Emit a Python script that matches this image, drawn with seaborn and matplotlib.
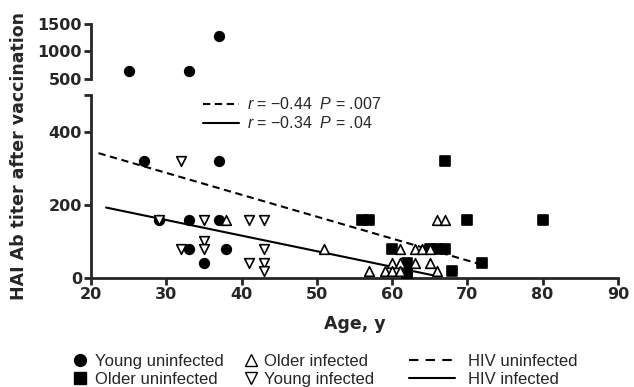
import numpy as np
import matplotlib
matplotlib.use('Agg')
import matplotlib.pyplot as plt
import pandas as pd
import seaborn as sns
from matplotlib.lines import Line2D

sns.set_style('ticks')
plt.rcParams['font.family'] = ['Liberation Sans', 'DejaVu Sans']
plt.rcParams['mathtext.fontset'] = 'custom'
plt.rcParams['mathtext.rm'] = 'Liberation Sans'
plt.rcParams['mathtext.it'] = 'Liberation Sans:italic'

# values
young_uninf_age = [25, 33, 37, 27, 37, 29, 33, 37, 33, 38, 35]
young_uninf_titer = [640, 640, 1280, 320, 320, 160, 160, 160, 80, 80, 40]

older_uninf_age = [67, 56, 57, 70, 80, 60, 65, 66, 67, 72, 62, 62, 62, 68]
older_uninf_titer = [320, 160, 160, 160, 160, 80, 80, 80, 80, 40, 40, 20, 10, 20]

older_inf_age = [38, 66, 67, 51, 61, 63, 64, 65, 60, 61, 63, 65, 57, 59, 60, 61, 66]
older_inf_titer = [160, 160, 160, 80, 80, 80, 80, 80, 40, 40, 40, 40, 20, 20, 20, 20, 20]

young_inf_age = [32, 29, 35, 41, 43, 35, 32, 35, 43, 41, 43, 43]
young_inf_titer = [320, 160, 160, 160, 160, 100, 80, 80, 80, 40, 40, 20]

fit_uninf_age = [21, 72]
fit_uninf_titer = [342, 36]
fit_inf_age = [22, 66]
fit_inf_titer = [193, 5]

x_ticks = [20, 30, 40, 50, 60, 70, 80, 90]

groups = [
    ('Young uninfected', young_uninf_age, young_uninf_titer, 'o', 'black', 48),
    ('Older uninfected', older_uninf_age, older_uninf_titer, 's', 'black', 44),
    ('Older infected', older_inf_age, older_inf_titer, '^', 'white', 48),
    ('Young infected', young_inf_age, young_inf_titer, 'v', 'white', 48),
]

tick_font = {'family': 'DejaVu Sans', 'weight': 'bold', 'size': 11.5}
label_font = {'family': 'DejaVu Sans', 'weight': 'bold', 'size': 12.5}
dash = (0, (3.5, 2.2))

fig = plt.figure(figsize=(6.34, 3.87), dpi=100)
ax_top = fig.add_axes([0.1435, 0.796, 0.831, 0.142])
ax = fig.add_axes([0.1435, 0.2817, 0.831, 0.4716])

for a in (ax, ax_top):
    for name, age, titer, mk, fc, s in groups:
        df = pd.DataFrame({'age': age, 'titer': titer})
        sns.scatterplot(data=df, x='age', y='titer', marker=mk, s=s,
                        color=fc, edgecolor='black', linewidth=1.2,
                        ax=a, zorder=3, legend=False)
    a.set_xlim(20, 90)
    a.set_xlabel('')
    a.set_ylabel('')
    for sp in a.spines.values():
        sp.set_linewidth(2)
    a.tick_params(width=2, length=5, pad=1.5)

ax.plot(fit_uninf_age, fit_uninf_titer, color='black', lw=1.5, ls=dash, zorder=2)
ax.plot(fit_inf_age, fit_inf_titer, color='black', lw=1.5, zorder=2)

ax.set_ylim(0, 500)
ax.set_yticks([0, 200, 400, 500])
ax.set_yticklabels(['0', '200', '400', ''])
ax.set_xticks(x_ticks)
sns.despine(ax=ax)

ax_top.set_ylim(500, 1500)
ax_top.set_yticks([500, 1000, 1500])
ax_top.set_xticks([])
sns.despine(ax=ax_top, bottom=True)

for a in (ax, ax_top):
    for lab in a.get_xticklabels() + a.get_yticklabels():
        lab.set_fontproperties(tick_font)

ax.set_xlabel('Age, y', fontdict=label_font, labelpad=9)
fig.text(0.03, 0.597, 'HAI Ab titer after vaccination', rotation=90,
         ha='center', va='center', fontdict=label_font)

# correlation legend inside plot
r_handles = [Line2D([], [], color='black', lw=1.5, ls=dash),
             Line2D([], [], color='black', lw=1.5)]
r_labels = ['$r$ = \u22120.44  $P$ = .007', '$r$ = \u22120.34  $P$ = .04']
ax.legend(r_handles, r_labels, loc='upper left', bbox_to_anchor=(0.2125, 0.995),
          frameon=False, fontsize=11.5, handlelength=2.25, handletextpad=0.5,
          labelspacing=0.18, borderpad=0, borderaxespad=0)

# bottom legends
mk_handles = []
for name, age, titer, mk, fc, s in groups:
    mk_handles.append(Line2D([], [], ls='', marker=mk, markersize=8.5,
                             markerfacecolor=fc, markeredgecolor='black',
                             markeredgewidth=1.0))
leg_kw = dict(loc='upper left', frameon=False, fontsize=12, labelspacing=0.18,
              borderpad=0, borderaxespad=0)
x0 = 73.0 / 634
x1 = 244.0 / 634
x2 = 409.0 / 634
y_top = 1 - 354.0 / 387
fig.legend(mk_handles[:2], [g[0] for g in groups[:2]], bbox_to_anchor=(x0, y_top),
           handlelength=0.8, handletextpad=0.5, **leg_kw)
fig.legend(mk_handles[2:], [g[0] for g in groups[2:]], bbox_to_anchor=(x1, y_top),
           handlelength=0.8, handletextpad=0.4, **leg_kw)

ln_handles = [Line2D([], [], color='black', lw=1.5, ls=(0, (4.5, 3.5))),
              Line2D([], [], color='black', lw=1.5)]
fig.legend(ln_handles, ['HIV uninfected', 'HIV infected'], bbox_to_anchor=(x2, y_top),
           handlelength=2.75, handletextpad=0.8, **leg_kw)

fig.savefig('out.png', dpi=100)
